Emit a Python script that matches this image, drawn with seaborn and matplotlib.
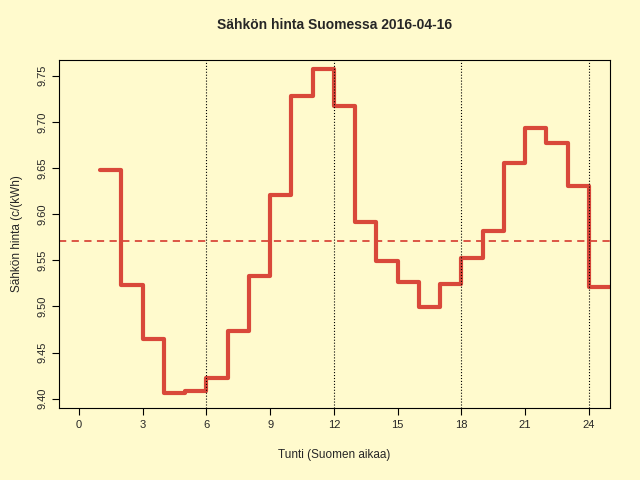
import matplotlib
matplotlib.use("Agg")
import matplotlib.pyplot as plt
import seaborn as sns
import pandas as pd

hours = list(range(1, 26))
prices = [9.648, 9.523, 9.465, 9.406, 9.408, 9.423, 9.473, 9.533, 9.621, 9.728,
          9.757, 9.717, 9.591, 9.549, 9.526, 9.499, 9.524, 9.553, 9.582, 9.655,
          9.693, 9.677, 9.631, 9.521, 9.521]
mean_price = 9.571
xticks = [0, 3, 6, 9, 12, 15, 18, 21, 24]
yticks = [9.40, 9.45, 9.50, 9.55, 9.60, 9.65, 9.70, 9.75]

bg = "#FFFACD"
col = "#D9483A"
sns.set_style("white")
plt.rcParams['font.family'] = ['Liberation Sans', 'DejaVu Sans']
fig = plt.figure(figsize=(6.4, 4.8), dpi=100, facecolor=bg)
ax = fig.add_axes([59/640, 1-408/480, (610-59)/640, (408-60)/480])
ax.set_facecolor(bg)
df = pd.DataFrame({"h": hours, "p": prices})
sns.lineplot(data=df, x="h", y="p", ax=ax, drawstyle="steps-post", color=col, lw=3)
ax.axhline(mean_price, color=col, ls=(0, (4, 3)), lw=1.3)
for v in [6, 12, 18, 24]:
    ax.axvline(v, color="black", ls=":", lw=0.8)
ax.set_xlim(-0.94, 25)
ax.set_ylim(9.390, 9.767)
ax.set_xticks(xticks)
ax.set_yticks(yticks)
ax.set_yticklabels([f"{v:.2f}" for v in yticks], rotation=90, va="center")
ax.tick_params(labelsize=8, length=5, direction="out", left=True, bottom=True, color="black")
for s in ax.spines.values():
    s.set_color("black"); s.set_linewidth(0.8)
ax.set_xlabel("Tunti (Suomen aikaa)", fontsize=8.5, labelpad=14)
ax.set_ylabel("Sähkön hinta (c/(kWh)", fontsize=8.5, labelpad=10)
ax.set_title("Sähkön hinta Suomessa 2016-04-16", fontsize=10, fontweight="bold", pad=22)
fig.savefig("out.png", dpi=100, facecolor=bg)
